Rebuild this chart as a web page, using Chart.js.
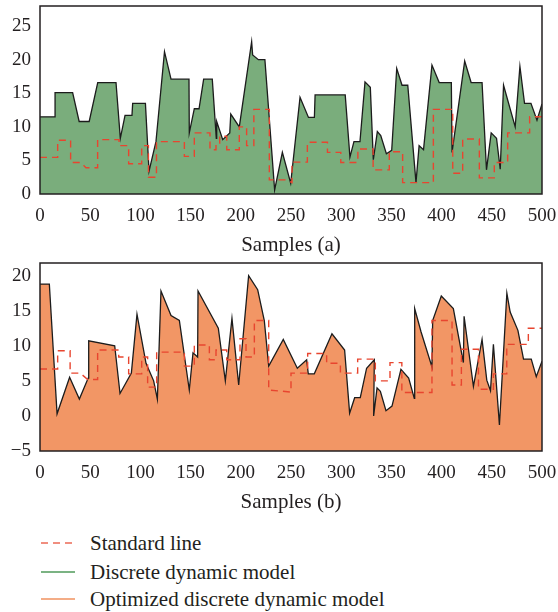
<!DOCTYPE html>
<html>
<head>
<meta charset="utf-8">
<script src="https://cdn.jsdelivr.net/npm/chart.js@4/dist/chart.umd.min.js"></script>
<style>
  body { margin: 0; background: #fff; width: 558px; height: 612px; position: relative; overflow: hidden; }
  canvas { position: absolute; left: 0; }
  #chartA { top: 0; }
  #chartB { top: 257px; }
  .legend { position: absolute; left: 0; font-family: 'Liberation Serif', serif; font-size: 21px; color: #231f20; }
  .legend div { position: absolute; left: 0; height: 28px; white-space: nowrap; }
  .legend svg { position: absolute; left: 40px; top: 0; }
  .legend span { position: absolute; left: 90px; top: 0; line-height: 28px; }
</style>
</head>
<body>
<canvas id="chartA" width="558" height="258"></canvas>
<canvas id="chartB" width="558" height="258"></canvas>

<div class="legend">
  <div style="top:529px"><svg width="40" height="28"><line x1="1" y1="14" x2="35" y2="14" stroke="#ec6a55" stroke-width="1.6" stroke-dasharray="7,5"/></svg><span>Standard line</span></div>
  <div style="top:558px"><svg width="40" height="28"><line x1="1" y1="14" x2="35" y2="14" stroke="#4f9a5a" stroke-width="1.6"/></svg><span>Discrete dynamic model</span></div>
  <div style="top:585px"><svg width="40" height="28"><line x1="1" y1="14" x2="35" y2="14" stroke="#f0925f" stroke-width="1.6"/></svg><span>Optimized discrete dynamic model</span></div>
</div>

<script>
// (a) discrete dynamic model
const discreteX = [0, 15, 15, 32.5, 39, 49, 57.5, 75.7, 80, 84.7, 91.6, 92.3, 105, 108.6, 115.5, 124, 130.5, 148.4, 148.7, 153.7, 158.4, 163, 171.6, 175.6, 176, 182, 189, 190, 198.5, 210.8, 211.8, 217.5, 224, 233.7, 241.4, 249.7, 259, 267.4, 273.3, 274, 304, 308.7, 312.7, 318.7, 323.7, 329, 332, 336, 339.4, 345, 350.3, 355.3, 360.6, 366.3, 374.5, 377.6, 382, 390.4, 397.6, 409.7, 410.4, 423, 429.4, 440.3, 444.7, 449.4, 454.7, 458.4, 461.7, 473.3, 478, 482.6, 489, 495, 500];
const discreteY = [11.5, 11.5, 15.1, 15.1, 10.8, 10.8, 16.6, 16.6, 8.3, 11.7, 11.7, 13.5, 13.5, 3.4, 7.8, 21.2, 17.1, 17.1, 9.1, 12.7, 12.7, 17.1, 17.1, 8.3, 10.8, 8.1, 9.1, 11.9, 10.0, 22.7, 20.7, 20.0, 20.0, 0.6, 6.2, 1.6, 14.4, 11.4, 11.4, 14.75, 14.75, 5.5, 7.8, 7.8, 16.7, 15.9, 5.1, 9.3, 8.7, 6.0, 6.5, 18.7, 16.2, 16.2, 1.7, 7.2, 6.6, 19.2, 16.6, 16.6, 6.2, 19.8, 16.6, 16.6, 3.6, 9.1, 8.3, 3.7, 16.2, 10.0, 19.0, 13.5, 13.5, 11.0, 13.4];

const standardAX = [0, 17.6, 17.6, 30.5, 30.5, 40.5, 45.8, 57.4, 57.4, 78.7, 78.7, 88.3, 88.3, 101.3, 101.3, 108, 108, 116, 116, 143.8, 143.8, 153.7, 153.7, 169.3, 169.3, 175.3, 175.3, 179, 179, 186, 186, 198.5, 198.5, 205.8, 205.8, 213, 213, 228.4, 228.4, 246, 251, 251, 266.3, 266.3, 286.3, 286.3, 299.6, 299.6, 316.6, 316.6, 331.8, 331.8, 347.9, 347.9, 361.2, 361.2, 391.8, 391.8, 411.1, 411.1, 421, 421, 437.6, 437.6, 452.5, 452.5, 465.8, 465.8, 487.7, 487.7, 500];
const standardAY = [5.45, 5.45, 8.0, 8.0, 4.7, 4.7, 3.9, 3.9, 8.1, 8.1, 7.2, 7.2, 4.5, 4.5, 7.2, 7.2, 2.5, 2.5, 7.8, 7.8, 5.6, 5.6, 9.1, 9.1, 6.6, 6.6, 7.6, 7.6, 8.6, 8.6, 6.6, 6.6, 10.0, 10.0, 7.2, 7.2, 12.6, 12.6, 2.1, 2.1, 1.7, 4.75, 4.75, 7.7, 7.7, 6.2, 6.2, 4.7, 4.7, 6.7, 6.7, 3.6, 3.6, 6.3, 6.3, 1.7, 1.7, 12.6, 12.6, 3.1, 3.1, 8.2, 8.2, 2.4, 2.4, 4.7, 4.7, 9.1, 9.1, 11.5, 11.5];

// (b) optimized discrete dynamic model
const optimizedX = [0, 9.3, 17, 29.5, 39.2, 48, 48.5, 74.4, 79.7, 91, 96.6, 105.6, 113.2, 116.9, 120.5, 130.5, 138.8, 148.7, 152.4, 157, 157.4, 177.6, 184.6, 191.2, 197.9, 207.8, 216.8, 223.4, 227.8, 242.3, 256.3, 265.6, 267.2, 273.2, 290.8, 303.4, 308.4, 313.4, 319, 325.3, 333, 332.3, 335.7, 339, 344.6, 350.6, 359.5, 367.2, 372.8, 373.2, 379.5, 390.4, 391.1, 399.7, 411.7, 421.7, 422.4, 431.7, 440.3, 445, 448.7, 451.6, 457.6, 465, 468.3, 476, 481.6, 489.3, 494.3, 500];
const optimizedY = [18.8, 18.8, 0.3, 5.5, 2.4, 5.4, 10.7, 10.0, 3.2, 6.1, 14.5, 7.5, 5.0, 2.4, 17.8, 14.3, 13.6, 3.7, 9.0, 8.4, 17.8, 12.5, 5.0, 13.9, 4.4, 20.0, 18.0, 13.6, 7.1, 10.9, 6.8, 8.0, 6.0, 6.0, 11.7, 9.4, 0.4, 2.6, 2.6, 6.8, 8.0, 0.0, 4.0, 3.5, 0.75, 1.4, 6.65, 5.4, 2.5, 15.3, 12.0, 7.0, 13.6, 17.1, 15.3, 7.6, 14.2, 4.2, 10.9, 5.1, 3.6, 10.2, -1.3, 17.5, 14.8, 12.2, 8.1, 8.1, 5.6, 7.8];

const standardBX = [0, 17.6, 17.6, 30, 30, 40, 47.5, 57.4, 57.4, 78.4, 78.4, 88.3, 88.3, 101.3, 101.3, 107.2, 107.2, 116.2, 116.2, 143.8, 143.8, 153.7, 153.7, 168.7, 168.7, 175.3, 175.3, 186, 186, 199.2, 199.2, 205.2, 205.2, 213.5, 213.5, 227.8, 227.8, 250, 250, 266.6, 266.6, 285.5, 285.5, 299.2, 299.2, 316.4, 316.4, 334, 334, 348.6, 348.6, 360.4, 360.4, 390.4, 390.4, 410.4, 410.4, 419.7, 419.7, 436.7, 436.7, 451.6, 451.6, 464.9, 464.9, 486.4, 486.4, 500];
const standardBY = [6.7, 6.7, 9.3, 9.3, 6.1, 6.1, 5.2, 5.2, 9.4, 9.4, 8.4, 8.4, 6.0, 6.0, 8.4, 8.4, 4.1, 4.1, 9.1, 9.1, 7.1, 7.1, 10.1, 10.1, 8.0, 8.0, 9.4, 9.4, 8.0, 8.0, 11.0, 11.0, 8.4, 8.4, 13.6, 13.6, 3.7, 3.4, 6.1, 6.1, 8.9, 8.9, 7.5, 7.5, 6.1, 6.1, 8.1, 8.1, 5.0, 5.0, 7.6, 7.6, 3.35, 3.35, 13.6, 13.6, 4.4, 4.4, 9.5, 9.5, 3.8, 3.8, 6.0, 6.0, 10.2, 10.2, 12.5, 12.5];

const FONT = "'Liberation Serif', serif";
const INK = '#231f20';

Chart.defaults.font.family = FONT;
Chart.defaults.font.size = 19;
Chart.defaults.color = INK;

function points(xs, ys) {
    return xs.map((x, i) => ({ x: x, y: ys[i] }));
}

// draw the box around the plot area
const framePlugin = {
    id: 'frame',
    afterDatasetsDraw(chart) {
        const { ctx, chartArea: a } = chart;
        ctx.save();
        ctx.strokeStyle = INK;
        ctx.lineWidth = 1.5;
        ctx.strokeRect(a.left, a.top, a.right - a.left, a.bottom - a.top);
        ctx.restore();
    }
};

// no extra room for half-labels at the ends of the axes
function noEndPadding(scale) {
    scale.paddingTop = 0;
    scale.paddingBottom = 0;
    scale.paddingLeft = 0;
    scale.paddingRight = 0;
}

function makeChart(id, modelX, modelY, stdX, stdY, fillColor, yMin, yMax, title) {
    const ctx = document.getElementById(id).getContext('2d');
    return new Chart(ctx, {
        type: 'line',
        data: {
            datasets: [
                {
                    label: 'Standard line',
                    data: points(stdX, stdY),
                    borderColor: '#e8452f',
                    borderWidth: 1.4,
                    borderDash: [7, 5],
                    pointRadius: 0,
                    fill: false,
                    tension: 0,
                    order: 0
                },
                {
                    label: 'Model',
                    data: points(modelX, modelY),
                    borderColor: '#1c1c1c',
                    borderWidth: 1.3,
                    backgroundColor: fillColor,
                    pointRadius: 0,
                    fill: 'start',
                    tension: 0,
                    order: 1
                }
            ]
        },
        options: {
            responsive: false,
            animation: false,
            devicePixelRatio: 1,
            layout: { padding: { top: 6, right: 16, left: 0, bottom: 0 } },
            plugins: { legend: { display: false }, tooltip: { enabled: false } },
            scales: {
                x: {
                    type: 'linear',
                    min: 0,
                    max: 500,
                    grid: { display: false, drawTicks: false },
                    border: { display: false },
                    afterFit: scale => { noEndPadding(scale); scale.height = 64; },
                    ticks: {
                        stepSize: 50,
                        autoSkip: false,
                        maxRotation: 0,
                        padding: 11,
                        color: INK,
                        font: { family: FONT, size: 19 }
                    },
                    title: {
                        display: true,
                        text: title,
                        color: INK,
                        padding: { top: 2, bottom: 0 },
                        font: { family: FONT, size: 21 }
                    }
                },
                y: {
                    min: yMin,
                    max: yMax,
                    grid: { display: false, drawTicks: false },
                    border: { display: false },
                    afterFit: scale => { noEndPadding(scale); scale.width = 40; },
                    ticks: {
                        stepSize: 5,
                        includeBounds: false,
                        padding: 9,
                        color: INK,
                        font: { family: FONT, size: 19 },
                        callback: v => v < 0 ? '\u2212' + Math.abs(v) : v
                    }
                }
            }
        },
        plugins: [framePlugin]
    });
}

makeChart('chartA', discreteX, discreteY, standardAX, standardAY, '#7aad7c', 0, 28, 'Samples (a)');
makeChart('chartB', optimizedX, optimizedY, standardBX, standardBY, '#f29665', -5, 21.8, 'Samples (b)');
</script>
</body>
</html>
